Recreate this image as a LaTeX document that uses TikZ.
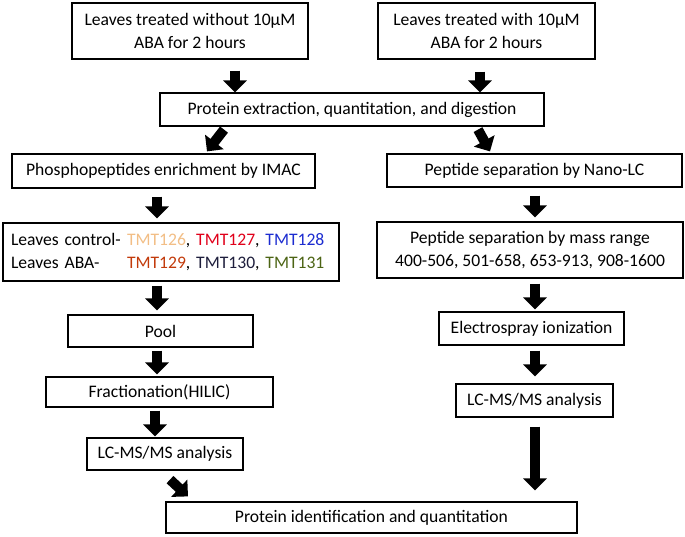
\documentclass[tikz,border=0pt]{standalone}
\usepackage{fontspec}
\setmainfont{Carlito}
\usepackage{xcolor}
\usetikzlibrary{arrows.meta}
\usetikzlibrary{positioning}
\definecolor{tmtA}{HTML}{F2BE86}
\definecolor{tmtB}{HTML}{E0001A}
\definecolor{tmtC}{HTML}{1C2CD0}
\definecolor{tmtD}{HTML}{C23A0A}
\definecolor{tmtE}{HTML}{1E1E3C}
\definecolor{tmtF}{HTML}{4C6414}
\tikzset{box/.style={draw,rectangle,line width=1.2pt,inner sep=0pt,
                     align=center,font=\fontsize{17.6}{23}\selectfont},
         fatarrow/.style={line width=10pt,
                          -{Triangle[length=12pt,width=23pt]}}}

\begin{document}
\begin{tikzpicture}[x=1pt,y=-1pt]
  \useasboundingbox (0,0) rectangle (685,536);
  % treatments
  \node[box,minimum width=236pt,minimum height=56pt] (without) at (190,31)
    {Leaves treated without 10µM\\ABA for 2 hours};
  \node[box,minimum width=217pt,minimum height=56pt] (with) at (486.5,31)
    {Leaves treated with 10µM\\ABA for 2 hours};
  \node[box,minimum width=384pt,minimum height=33pt] (extract) at (352,109.5)
    {Protein extraction, quantitation, and digestion};
  % phospho branch
  \node[box,minimum width=303pt,minimum height=34pt] (imac) at (163.5,171)
    {Phosphopeptides enrichment by IMAC};
  \node[box,minimum width=336pt,minimum height=58pt,text width=320pt,align=left] (tmt) at (171,252)
    {\makebox[116pt][l]{Leaves control-}\textcolor{tmtA}{TMT126}, \textcolor{tmtB}{TMT127}, \textcolor{tmtC}{TMT128}\\
     \makebox[116pt][l]{Leaves ABA-}\textcolor{tmtD}{TMT129}, \textcolor{tmtE}{TMT130}, \textcolor{tmtF}{TMT131}};
  \node[box,minimum width=185pt,minimum height=32pt] (pool) at (160.5,331)
    {Pool};
  \node[box,minimum width=227pt,minimum height=30pt] (hilic) at (159.5,392)
    {Fractionation(HILIC)};
  \node[box,minimum width=156pt,minimum height=32pt] (lcleft) at (165,454)
    {LC-MS/MS analysis};
  % peptide branch
  \node[box,minimum width=295pt,minimum height=33pt] (nanolc) at (534.5,170.5)
    {Peptide separation by Nano-LC};
  \node[box,minimum width=306pt,minimum height=56pt] (range) at (530,250)
    {Peptide separation by mass range\\400-506, 501-658, 653-913, 908-1600};
  \node[box,minimum width=185pt,minimum height=33pt] (spray) at (531.5,328.5)
    {Electrospray ionization};
  \node[box,minimum width=157pt,minimum height=33pt] (lcright) at (534.5,400.5)
    {LC-MS/MS analysis};
  % result
  \node[box,minimum width=411pt,minimum height=31pt] (ident) at (371.5,517.5)
    {Protein identification and quantitation};
  % block arrows
  \draw[fatarrow] ([xshift=45pt,yshift=-11pt]without.south) -- ([xshift=-117pt]extract.north);
  \draw[fatarrow] ([xshift=-6.5pt,yshift=-12pt]with.south) -- ([xshift=128pt]extract.north);
  \draw[fatarrow] ([xshift=-128pt,yshift=-3pt]extract.south) -- ([xshift=43.5pt,yshift=2pt]imac.north);
  \draw[fatarrow] ([xshift=126pt,yshift=-3pt]extract.south) -- ([xshift=-44.5pt,yshift=2pt]nanolc.north);
  \draw[fatarrow] ([xshift=-6.5pt,yshift=-8pt]imac.south) -- ([xshift=-14pt,yshift=4pt]tmt.north);
  \draw[fatarrow] ([xshift=0.5pt,yshift=-8pt]nanolc.south) -- ([xshift=5pt,yshift=4pt]range.north);
  \draw[fatarrow] ([xshift=-14pt,yshift=-4pt]tmt.south) -- ([xshift=-3.5pt,yshift=4pt]pool.north);
  \draw[fatarrow] ([xshift=-3.5pt,yshift=-3pt]pool.south) -- ([xshift=-2.5pt,yshift=2pt]hilic.north);
  \draw[fatarrow] ([xshift=-4.5pt,yshift=-3pt]hilic.south) -- ([xshift=-10pt,yshift=1pt]lcleft.north);
  \draw[fatarrow] ([xshift=5pt,yshift=-5pt]range.south) -- ([xshift=3.5pt,yshift=2pt]spray.north);
  \draw[fatarrow] ([xshift=3.5pt,yshift=-5pt]spray.south) -- ([xshift=0.5pt,yshift=7pt]lcright.north);
  \draw[fatarrow] ([xshift=0.5pt,yshift=-9pt]lcright.south) -- ([xshift=163.5pt,yshift=11pt]ident.north);
  \draw[fatarrow] ([xshift=5pt,yshift=-9pt]lcleft.south) -- ([xshift=-183.5pt,yshift=5pt]ident.north);
\end{tikzpicture}
\end{document}
